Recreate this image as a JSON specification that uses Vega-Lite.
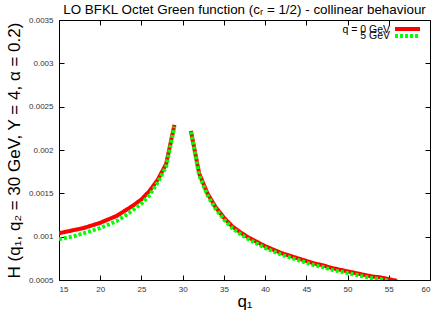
{
  "$schema": "https://vega.github.io/schema/vega-lite/v6.json",
  "width": 371,
  "height": 260,
  "autosize": {"type": "none"},
  "padding": {"left": 59, "top": 20, "right": 6, "bottom": 30},
  "background": "white",
  "title": {
    "text": "LO BFKL Octet Green function (cᵣ = 1/2) - collinear behaviour",
    "font": "Liberation Sans",
    "fontSize": 13.4,
    "fontWeight": "normal",
    "color": "black",
    "anchor": "middle",
    "offset": 0
  },
  "config": {
    "view": {"stroke": "black", "strokeWidth": 1},
    "axis": {
      "grid": false,
      "domain": false,
      "tickColor": "black",
      "tickWidth": 1,
      "labelFont": "Liberation Sans",
      "labelFontSize": 8,
      "labelColor": "#333333",
      "titleFont": "Liberation Sans",
      "titleFontWeight": "normal",
      "titleColor": "black",
      "titleFontSize": 17
    }
  },
  "data": {
    "values": [
      {"q1": 15, "H": 0.00104, "series": "q = 0 GeV", "branch": "L"},
      {"q1": 16, "H": 0.00106, "series": "q = 0 GeV", "branch": "L"},
      {"q1": 17, "H": 0.00108, "series": "q = 0 GeV", "branch": "L"},
      {"q1": 18, "H": 0.00110, "series": "q = 0 GeV", "branch": "L"},
      {"q1": 19, "H": 0.00113, "series": "q = 0 GeV", "branch": "L"},
      {"q1": 20, "H": 0.00116, "series": "q = 0 GeV", "branch": "L"},
      {"q1": 21, "H": 0.00120, "series": "q = 0 GeV", "branch": "L"},
      {"q1": 22, "H": 0.00124, "series": "q = 0 GeV", "branch": "L"},
      {"q1": 23, "H": 0.00130, "series": "q = 0 GeV", "branch": "L"},
      {"q1": 24, "H": 0.00136, "series": "q = 0 GeV", "branch": "L"},
      {"q1": 25, "H": 0.00143, "series": "q = 0 GeV", "branch": "L"},
      {"q1": 26, "H": 0.00153, "series": "q = 0 GeV", "branch": "L"},
      {"q1": 27, "H": 0.00166, "series": "q = 0 GeV", "branch": "L"},
      {"q1": 28, "H": 0.00184, "series": "q = 0 GeV", "branch": "L"},
      {"q1": 29, "H": 0.00229, "series": "q = 0 GeV", "branch": "L"},
      {"q1": 31, "H": 0.00222, "series": "q = 0 GeV", "branch": "R"},
      {"q1": 32, "H": 0.00173, "series": "q = 0 GeV", "branch": "R"},
      {"q1": 33, "H": 0.00150, "series": "q = 0 GeV", "branch": "R"},
      {"q1": 34, "H": 0.00134, "series": "q = 0 GeV", "branch": "R"},
      {"q1": 35, "H": 0.00122, "series": "q = 0 GeV", "branch": "R"},
      {"q1": 36, "H": 0.00112, "series": "q = 0 GeV", "branch": "R"},
      {"q1": 37, "H": 0.00105, "series": "q = 0 GeV", "branch": "R"},
      {"q1": 38, "H": 0.00099, "series": "q = 0 GeV", "branch": "R"},
      {"q1": 39, "H": 0.00094, "series": "q = 0 GeV", "branch": "R"},
      {"q1": 40, "H": 0.00089, "series": "q = 0 GeV", "branch": "R"},
      {"q1": 41, "H": 0.00085, "series": "q = 0 GeV", "branch": "R"},
      {"q1": 42, "H": 0.00081, "series": "q = 0 GeV", "branch": "R"},
      {"q1": 43, "H": 0.00078, "series": "q = 0 GeV", "branch": "R"},
      {"q1": 44, "H": 0.00075, "series": "q = 0 GeV", "branch": "R"},
      {"q1": 45, "H": 0.00072, "series": "q = 0 GeV", "branch": "R"},
      {"q1": 46, "H": 0.00069, "series": "q = 0 GeV", "branch": "R"},
      {"q1": 47, "H": 0.00067, "series": "q = 0 GeV", "branch": "R"},
      {"q1": 48, "H": 0.00064, "series": "q = 0 GeV", "branch": "R"},
      {"q1": 49, "H": 0.00062, "series": "q = 0 GeV", "branch": "R"},
      {"q1": 50, "H": 0.00060, "series": "q = 0 GeV", "branch": "R"},
      {"q1": 51, "H": 0.00058, "series": "q = 0 GeV", "branch": "R"},
      {"q1": 52, "H": 0.00056, "series": "q = 0 GeV", "branch": "R"},
      {"q1": 53, "H": 0.00054, "series": "q = 0 GeV", "branch": "R"},
      {"q1": 54, "H": 0.00053, "series": "q = 0 GeV", "branch": "R"},
      {"q1": 55, "H": 0.00051, "series": "q = 0 GeV", "branch": "R"},
      {"q1": 56, "H": 0.00049, "series": "q = 0 GeV", "branch": "R"},
      {"q1": 15, "H": 0.00097, "series": "5 GeV", "branch": "L"},
      {"q1": 16, "H": 0.00099, "series": "5 GeV", "branch": "L"},
      {"q1": 17, "H": 0.00101, "series": "5 GeV", "branch": "L"},
      {"q1": 18, "H": 0.00104, "series": "5 GeV", "branch": "L"},
      {"q1": 19, "H": 0.00107, "series": "5 GeV", "branch": "L"},
      {"q1": 20, "H": 0.00110, "series": "5 GeV", "branch": "L"},
      {"q1": 21, "H": 0.00114, "series": "5 GeV", "branch": "L"},
      {"q1": 22, "H": 0.00118, "series": "5 GeV", "branch": "L"},
      {"q1": 23, "H": 0.00124, "series": "5 GeV", "branch": "L"},
      {"q1": 24, "H": 0.00131, "series": "5 GeV", "branch": "L"},
      {"q1": 25, "H": 0.00138, "series": "5 GeV", "branch": "L"},
      {"q1": 26, "H": 0.00148, "series": "5 GeV", "branch": "L"},
      {"q1": 27, "H": 0.00163, "series": "5 GeV", "branch": "L"},
      {"q1": 28, "H": 0.00181, "series": "5 GeV", "branch": "L"},
      {"q1": 29, "H": 0.00227, "series": "5 GeV", "branch": "L"},
      {"q1": 31, "H": 0.00221, "series": "5 GeV", "branch": "R"},
      {"q1": 32, "H": 0.00171, "series": "5 GeV", "branch": "R"},
      {"q1": 33, "H": 0.00148, "series": "5 GeV", "branch": "R"},
      {"q1": 34, "H": 0.00132, "series": "5 GeV", "branch": "R"},
      {"q1": 35, "H": 0.00120, "series": "5 GeV", "branch": "R"},
      {"q1": 36, "H": 0.00110, "series": "5 GeV", "branch": "R"},
      {"q1": 37, "H": 0.00103, "series": "5 GeV", "branch": "R"},
      {"q1": 38, "H": 0.00097, "series": "5 GeV", "branch": "R"},
      {"q1": 39, "H": 0.00092, "series": "5 GeV", "branch": "R"},
      {"q1": 40, "H": 0.00087, "series": "5 GeV", "branch": "R"},
      {"q1": 41, "H": 0.00083, "series": "5 GeV", "branch": "R"},
      {"q1": 42, "H": 0.00079, "series": "5 GeV", "branch": "R"},
      {"q1": 43, "H": 0.00076, "series": "5 GeV", "branch": "R"},
      {"q1": 44, "H": 0.00073, "series": "5 GeV", "branch": "R"},
      {"q1": 45, "H": 0.00070, "series": "5 GeV", "branch": "R"},
      {"q1": 46, "H": 0.00067, "series": "5 GeV", "branch": "R"},
      {"q1": 47, "H": 0.00065, "series": "5 GeV", "branch": "R"},
      {"q1": 48, "H": 0.00062, "series": "5 GeV", "branch": "R"},
      {"q1": 49, "H": 0.00060, "series": "5 GeV", "branch": "R"},
      {"q1": 50, "H": 0.00058, "series": "5 GeV", "branch": "R"},
      {"q1": 51, "H": 0.00056, "series": "5 GeV", "branch": "R"},
      {"q1": 52, "H": 0.00054, "series": "5 GeV", "branch": "R"},
      {"q1": 53, "H": 0.00052, "series": "5 GeV", "branch": "R"},
      {"q1": 54, "H": 0.00051, "series": "5 GeV", "branch": "R"},
      {"q1": 55, "H": 0.00049, "series": "5 GeV", "branch": "R"}
    ]
  },
  "resolve": {
    "scale": {"x": "independent", "y": "independent"},
    "axis": {"x": "independent", "y": "independent"}
  },
  "layer": [
    {
      "mark": {"type": "line", "clip": true, "strokeWidth": 4},
      "encoding": {
        "x": {
          "field": "q1",
          "type": "quantitative",
          "scale": {"domain": [15, 60], "nice": false, "zero": false},
          "axis": {"orient": "bottom", "values": [15, 20, 25, 30, 35, 40, 45, 50, 55, 60], "ticks": false, "title": "q₁", "titlePadding": 0, "labelPadding": 5}
        },
        "y": {
          "field": "H",
          "type": "quantitative",
          "scale": {"domain": [0.0005, 0.0035], "nice": false, "zero": false},
          "axis": {"orient": "left", "values": [0.0005, 0.001, 0.0015, 0.002, 0.0025, 0.003, 0.0035], "format": "~g", "ticks": false, "title": "H (q₁, q₂ = 30 GeV, Y = 4, α = 0.2)", "titlePadding": 5, "labelPadding": 6}
        },
        "detail": {"field": "branch"},
        "color": {
          "field": "series",
          "type": "nominal",
          "scale": {"domain": ["q = 0 GeV", "5 GeV"], "range": ["#ff0000", "#00ff00"]},
          "legend": null
        },
        "strokeDash": {
          "field": "series",
          "type": "nominal",
          "scale": {"domain": ["q = 0 GeV", "5 GeV"], "range": [[1, 0], [3, 2]]},
          "legend": null
        }
      }
    },
    {
      "mark": {"type": "line", "opacity": 0, "clip": true},
      "encoding": {
        "x": {
          "field": "q1",
          "type": "quantitative",
          "scale": {"domain": [15, 60], "nice": false, "zero": false},
          "axis": {"orient": "bottom", "values": [15, 20, 25, 30, 35, 40, 45, 50, 55, 60], "labels": false, "title": null, "offset": -5, "tickSize": 5}
        },
        "y": {
          "field": "H",
          "type": "quantitative",
          "scale": {"domain": [0.0005, 0.0035], "nice": false, "zero": false},
          "axis": {"orient": "left", "values": [0.0005, 0.001, 0.0015, 0.002, 0.0025, 0.003, 0.0035], "labels": false, "title": null, "offset": -5, "tickSize": 5}
        },
        "detail": {"field": "branch"}
      }
    },
    {
      "mark": {"type": "line", "opacity": 0, "clip": true},
      "encoding": {
        "x": {
          "field": "q1",
          "type": "quantitative",
          "scale": {"domain": [15, 60], "nice": false, "zero": false},
          "axis": {"orient": "top", "values": [15, 20, 25, 30, 35, 40, 45, 50, 55, 60], "labels": false, "title": null, "offset": -5, "tickSize": 5}
        },
        "y": {
          "field": "H",
          "type": "quantitative",
          "scale": {"domain": [0.0005, 0.0035], "nice": false, "zero": false},
          "axis": {"orient": "right", "values": [0.0005, 0.001, 0.0015, 0.002, 0.0025, 0.003, 0.0035], "labels": false, "title": null, "offset": -5, "tickSize": 5}
        },
        "detail": {"field": "branch"}
      }
    },
    {
      "data": {"values": [{"series": "q = 0 GeV"}, {"series": "5 GeV"}]},
      "encoding": {
        "x": {"type": "quantitative", "scale": {"domain": [15, 60], "nice": false, "zero": false}, "axis": null},
        "y": {"type": "quantitative", "scale": {"domain": [0.0005, 0.0035], "nice": false, "zero": false}, "axis": null}
      },
      "layer": [
        {
          "transform": [{"filter": "datum.series === 'q = 0 GeV'"}],
          "mark": {"type": "text", "align": "right", "baseline": "middle", "font": "Liberation Sans", "fontSize": 10.5, "color": "black"},
          "encoding": {
            "x": {"datum": 55.15, "type": "quantitative"},
            "y": {"datum": 0.00339, "type": "quantitative"},
            "text": {"field": "series"}
          }
        },
        {
          "transform": [{"filter": "datum.series === '5 GeV'"}],
          "mark": {"type": "text", "align": "right", "baseline": "middle", "font": "Liberation Sans", "fontSize": 10.5, "color": "black"},
          "encoding": {
            "x": {"datum": 55.15, "type": "quantitative"},
            "y": {"datum": 0.00331, "type": "quantitative"},
            "text": {"field": "series"}
          }
        },
        {
          "transform": [{"filter": "datum.series === 'q = 0 GeV'"}],
          "mark": {"type": "rule", "color": "#ff0000", "strokeWidth": 4},
          "encoding": {
            "x": {"datum": 55.75, "type": "quantitative"},
            "x2": {"datum": 58.79},
            "y": {"datum": 0.003396, "type": "quantitative"}
          }
        },
        {
          "transform": [{"filter": "datum.series === '5 GeV'"}],
          "mark": {"type": "rule", "color": "#00ff00", "strokeWidth": 4, "strokeDash": [3, 2]},
          "encoding": {
            "x": {"datum": 55.75, "type": "quantitative"},
            "x2": {"datum": 58.79},
            "y": {"datum": 0.003315, "type": "quantitative"}
          }
        }
      ]
    }
  ]
}
